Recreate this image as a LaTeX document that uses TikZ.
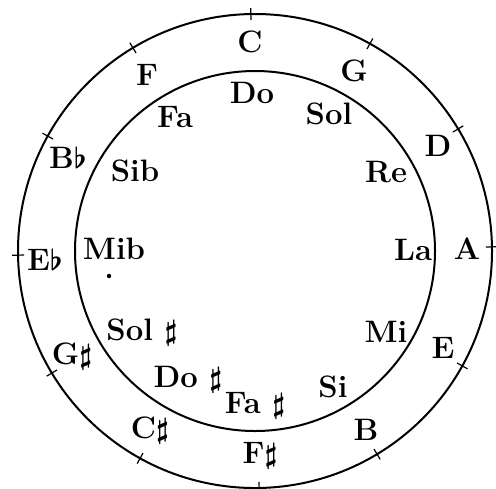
\documentclass[tikz,border=0pt]{standalone}
\begin{document}
\begin{tikzpicture}[x=0.5pt, y=-0.5pt, every node/.style={font=\fontsize{15.5}{18}\selectfont\bfseries\boldmath}]
  \useasboundingbox (0,0) rectangle (496,488);
  % Outer and inner rings
  \coordinate (centre) at (255,251);
  \draw[line width=1pt] (centre) circle[radius=118.5pt];
  \draw[line width=1pt] (centre) circle[radius=90pt];
  % Ticks on the outer ring
  \foreach \a in {1,31,...,331} {
    \draw[line width=0.6pt] ([shift={(centre)}]\a:115.5pt) -- ([shift={(centre)}]\a:121.5pt);
  }
  % Outer ring: letter names
  \foreach \name/\txt/\x/\y in {C/C/250/42, G/G/354/71, D/D/438/146, A/A/467/249,
      E/E/443/348, B/B/366/430, Fs/F$\sharp$/260/456, Cs/C$\sharp$/150/430,
      Gs/G$\sharp$/72/356, Eb/E$\flat$/45/260, Bb/B$\flat$/68/158, F/F/147/75} {
    \node (\name) at (\x,\y) {\txt};
  }
  % Inner ring: solfege names
  \foreach \name/\txt/\x/\y in {do/Do/252/93, sol/Sol/329/114, re/Re/386/172, la/La/413/250,
      mi/Mi/386/332, si/Si/333/387, fas/Fa~$\sharp$/255/406, dos/Do~$\sharp$/188/380,
      sols/Sol~$\sharp$/142/332, mib/Mib/114/249, sib/Sib/135/171, fa/Fa/175/117} {
    \node (\name) at (\x,\y) {\txt};
  }
  % Stray dot
  \fill (109,276) circle[radius=1.1pt];
\end{tikzpicture}
\end{document}
